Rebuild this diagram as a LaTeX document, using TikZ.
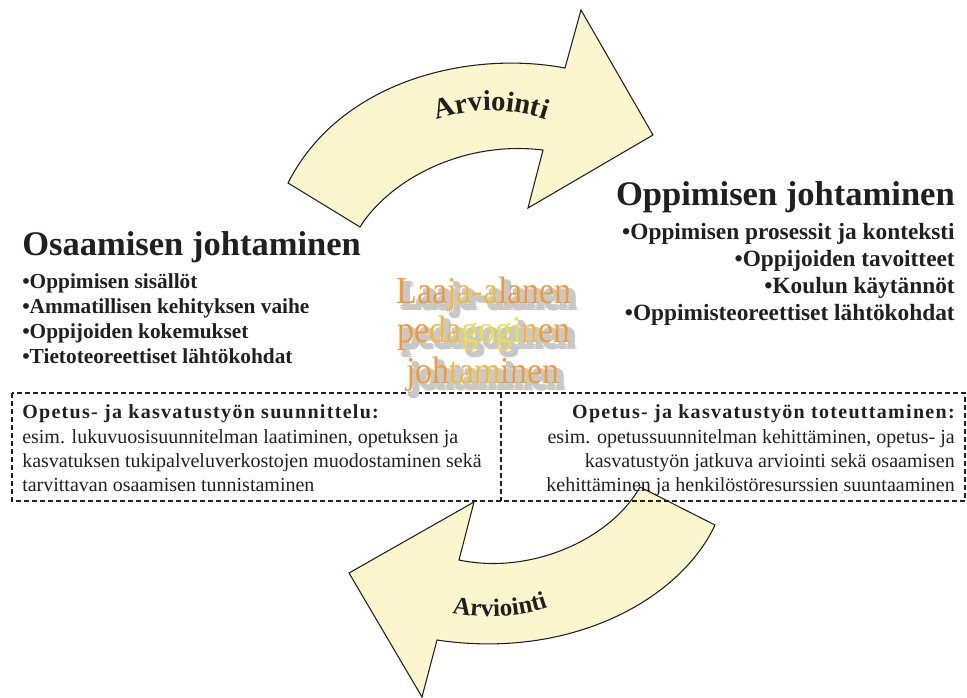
\documentclass[tikz,border=0pt]{standalone}
\usepackage{fontspec}
\usepackage{graphicx}
\setmainfont{Liberation Serif}
\newfontfamily\headspaced{Liberation Serif}[LetterSpace=6.5]
\usetikzlibrary{decorations.text}

\definecolor{arrowfill}{HTML}{FBF6CD}
\definecolor{ink}{HTML}{231F20}
\definecolor{orA}{HTML}{F29A36}
\definecolor{orB}{HTML}{F5B737}
\definecolor{orC}{HTML}{EEDF3A}
\definecolor{shade}{HTML}{C8C8C8}

% letters of the centre title take a colour, unless drawn flat for the shadow
\newif\ifflat
\newcommand\hue[2]{\ifflat#2\else\textcolor{#1}{#2}\fi}
\newcommand\ljOne{\hue{orA}{Laa}\hue{orB}{ja-a}\hue{orA}{lanen}}
\newcommand\ljTwo{\hue{orA}{pe}\hue{orB}{da}\hue{orC}{gogi}\hue{orB}{n}\hue{orA}{en}}
\newcommand\ljThree{\hue{orA}{joh}\hue{orB}{tam}\hue{orA}{inen}}
\newcommand\tall[1]{\scalebox{1}[1.12]{#1}}

\tikzset{
  bigarrow/.style={fill=arrowfill, draw=ink, line width=0.8pt, line join=miter},
  frame/.style={draw=ink, line width=1.1pt, dash pattern=on 3.75pt off 2.25pt},
  title/.style={font=\fontsize{25.9}{30}\selectfont\bfseries, text=ink, inner sep=0pt},
  leftbullet/.style={font=\fontsize{16}{19}\selectfont\bfseries, text=ink, inner sep=0pt, anchor=base west},
  rightbullet/.style={font=\fontsize{17.5}{21}\selectfont\bfseries, text=ink, inner sep=0pt, anchor=base east},
  boxhead/.style={font=\headspaced\fontsize{15}{18}\selectfont\bfseries, text=ink, inner sep=0pt},
  boxbody/.style={font=\fontsize{15}{18}\selectfont, text=ink, inner sep=0pt},
  lj/.style={font=\fontsize{25.5}{30}\selectfont, inner sep=0pt, anchor=base},
  ljshadow/.style={lj, text=shade},
}

\begin{document}
\begin{tikzpicture}[x=0.75pt,y=-0.75pt]
\useasboundingbox (0,0) rectangle (967,697);

% upper curved arrow, pointing right
\draw[bigarrow] (288,183) -- (360,227)
  .. controls (388,182) and (460,140) .. (543,150)
  -- (528,208) -- (653,135) -- (581,10) -- (565,68)
  .. controls (470,50) and (340,80) .. cycle;
\path[decorate, decoration={text along path, text align=center,
  text color=ink, text={|\fontsize{21.5}{24}\selectfont\bfseries|Arviointi}}]
  (433,121) .. controls (470,107) and (510,107) .. (549,121);

% lower curved arrow, pointing left
\draw[bigarrow] (640,487) -- (715,525)
  .. controls (680,600) and (570,660) .. (437,640)
  -- (422,697) -- (349,573) -- (474,502) -- (459,560)
  .. controls (530,575) and (610,540) .. cycle;
\path[decorate, decoration={text along path, text align=center,
  text color=ink, text={|\fontsize{18.75}{22}\selectfont\bfseries|Arviointi}}]
  (448,612) .. controls (480,619) and (520,618) .. (552,606);

% dashed frame of the two task boxes and their divider
\draw[frame] (12,393) rectangle (965,501);
\draw[frame] (501,393) -- (501,501);

% left block
\node[title, anchor=base west] (osaTitle) at (22,255) {Osaamisen johtaminen};
\node[leftbullet] (osa1) at (22,288) {•Oppimisen sisällöt};
\node[leftbullet] (osa2) at (22,313) {•Ammatillisen kehityksen vaihe};
\node[leftbullet] (osa3) at (22,338) {•Oppijoiden kokemukset};
\node[leftbullet] (osa4) at (22,363) {•Tietoteoreettiset lähtökohdat};

% right block
\node[title, anchor=base east] (oppTitle) at (955,205) {Oppimisen johtaminen};
\node[rightbullet] (opp1) at (955,239) {•Oppimisen prosessit ja konteksti};
\node[rightbullet] (opp2) at (955,266) {•Oppijoiden tavoitteet};
\node[rightbullet] (opp3) at (955,293) {•Koulun käytännöt};
\node[rightbullet] (opp4) at (955,320) {•Oppimisteoreettiset lähtökohdat};

% centre title with its soft grey shadow
\foreach \dx/\dy [count=\k] in {3/3,5/3,3/5,5/5,7/5,5/7,7/7,4/6,6/4} {
  \node[ljshadow] (sh1-\k) at (484+\dx,303+\dy) {\flattrue\tall{\ljOne}};
  \node[ljshadow] (sh2-\k) at (484+\dx,342+\dy) {\flattrue\tall{\ljTwo}};
  \node[ljshadow] (sh3-\k) at (483+\dx,383+\dy) {\flattrue\tall{\ljThree}};
}
\node[lj] (lj1) at (484,303) {\tall{\ljOne}};
\node[lj] (lj2) at (484,342) {\tall{\ljTwo}};
\node[lj] (lj3) at (483,383) {\tall{\ljThree}};

% left task box
\node[boxhead, anchor=base west] (plan0) at (22,418) {Opetus- ja kasvatustyön suunnittelu:};
\node[boxbody, anchor=base west] (plan1) at (22,443) {esim. lukuvuosisuunnitelman laatiminen, opetuksen ja};
\node[boxbody, anchor=base west] (plan2) at (22,467) {kasvatuksen tukipalveluverkostojen muodostaminen sekä};
\node[boxbody, anchor=base west] (plan3) at (22,491) {tarvittavan osaamisen tunnistaminen};

% right task box
\node[boxhead, anchor=base east] (act0) at (955,418) {Opetus- ja kasvatustyön toteuttaminen:};
\node[boxbody, anchor=base east] (act1) at (955,443) {esim. opetussuunnitelman kehittäminen, opetus- ja};
\node[boxbody, anchor=base east] (act2) at (955,467) {kasvatustyön jatkuva arviointi sekä osaamisen};
\node[boxbody, anchor=base east] (act3) at (955,491) {kehittäminen ja henkilöstöresurssien suuntaaminen};
\end{tikzpicture}
\end{document}
